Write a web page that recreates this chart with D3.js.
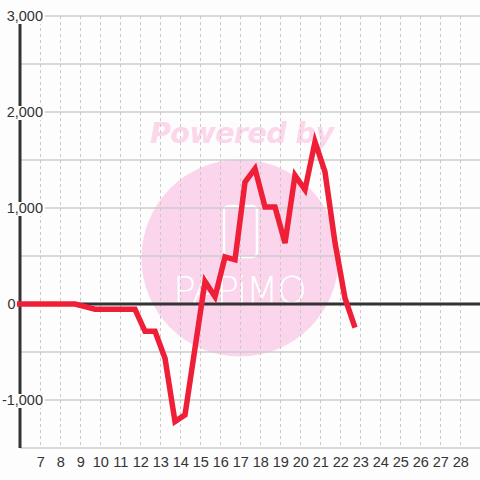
<!DOCTYPE html>
<html>
<head>
<meta charset="utf-8">
<script src="https://cdn.jsdelivr.net/npm/d3@7"></script>
<style>
  body { margin: 0; background: #fcfdfc; }
  svg { display: block; }
</style>
</head>
<body>
<div id="chart"></div>
<script>
// data (x = hour of day, y = balance)
var hours = [5.85, 6.25, 6.75, 7.25, 7.75, 8.25, 8.75, 9.25, 9.75, 10.25, 10.75, 11.25, 11.75,
  12.25, 12.75, 13.25, 13.75, 14.25, 14.75, 15.25, 15.75, 16.25, 16.75, 17.25, 17.75,
  18.25, 18.75, 19.25, 19.75, 20.25, 20.75, 21.25, 21.75, 22.25, 22.75];
var values = [0, 0, 0, 0, 0, 0, 0, -28, -55, -55, -55, -55, -55,
  -285, -285, -565, -1225, -1155, -460, 235, 75, 490, 460, 1270, 1410,
  1010, 1010, 635, 1340, 1190, 1690, 1375, 640, 60, -245];
var xTicks = d3.range(7, 29);
var yGrid = d3.range(-1500, 3001, 500);
var yLabels = [-1000, 0, 1000, 2000, 3000];

var width = 480, height = 480;
var bg = '#fcfdfc';

var svg = d3.select('#chart').append('svg')
  .attr('width', width)
  .attr('height', height);

var x = d3.scaleLinear().domain([6, 29]).range([20, 480]);
var y = d3.scaleLinear().domain([-1500, 3000]).range([448, 16]);

// watermark
var wm = svg.append('g');
wm.append('circle')
  .attr('cx', 240).attr('cy', 258).attr('r', 98.5)
  .style('fill', '#fad5ec');
wm.append('text')
  .attr('x', 242).attr('y', 143)
  .attr('text-anchor', 'middle')
  .attr('textLength', 184)
  .style('font-family', 'DejaVu Sans')
  .style('font-weight', 'bold')
  .style('font-style', 'italic')
  .style('font-size', '28.5px')
  .style('fill', '#fcd6ea')
  .text('Powered by');
wm.append('rect')
  .attr('x', 224).attr('y', 206).attr('width', 33).attr('height', 51).attr('rx', 5)
  .style('fill', 'none').style('stroke', '#fff').style('stroke-width', 2.5);
wm.append('text')
  .attr('x', 240).attr('y', 303)
  .attr('text-anchor', 'middle')
  .attr('textLength', 134)
  .style('font-family', 'DejaVu Sans')
  .style('font-weight', 200)
  .style('font-size', '38px')
  .style('fill', '#fff')
  .text('PAPiMO');

// horizontal grid
svg.selectAll('.hgrid')
  .data(yGrid)
  .enter().append('line')
  .attr('x1', 20).attr('x2', 480)
  .attr('y1', function (d) { return y(d); })
  .attr('y2', function (d) { return y(d); })
  .style('stroke', '#cccccc')
  .style('stroke-width', 1.5);

// vertical dashed grid
svg.selectAll('.vgrid')
  .data(xTicks)
  .enter().append('line')
  .attr('x1', function (d) { return x(d) + 0.5; })
  .attr('x2', function (d) { return x(d) + 0.5; })
  .attr('y1', y(3000)).attr('y2', y(-1500))
  .style('stroke', '#c8c8c8')
  .style('stroke-width', 1)
  .style('stroke-dasharray', '3,3');

// zero line and y axis line
svg.append('line')
  .attr('x1', 20).attr('x2', 480)
  .attr('y1', y(0)).attr('y2', y(0))
  .style('stroke', '#333').style('stroke-width', 3);
svg.append('line')
  .attr('x1', 20).attr('x2', 20)
  .attr('y1', y(3000)).attr('y2', y(-1500))
  .style('stroke', '#333').style('stroke-width', 3);

// data line
var line = d3.line()
  .x(function (d, i) { return x(hours[i]); })
  .y(function (d) { return y(d); });
svg.append('path')
  .datum(values)
  .attr('d', line)
  .style('fill', 'none')
  .style('stroke', '#ef1f37')
  .style('stroke-width', 5.5);

// y labels with background boxes
var fmt = d3.format(',');
var yl = svg.selectAll('.ylab')
  .data(yLabels)
  .enter().append('g');
yl.filter(function (d) { return d !== 0; })
  .append('rect')
  .attr('x', 3).attr('width', 42)
  .attr('y', function (d) { return y(d) - 6; })
  .attr('height', 14)
  .style('fill', bg);
yl.append('text')
  .attr('x', function (d) { return d === 0 ? 7.5 : 43; })
  .attr('y', function (d) { return y(d); })
  .attr('dy', '0.35em')
  .attr('text-anchor', function (d) { return d === 0 ? 'start' : 'end'; })
  .style('font-family', 'Liberation Sans, Arial, sans-serif')
  .style('font-size', '14.5px')
  .style('fill', '#333')
  .text(function (d) { return fmt(d).replace('−', '-'); });

// x labels
svg.selectAll('.xlab')
  .data(xTicks)
  .enter().append('text')
  .attr('x', function (d) { return x(d) + 0.7; })
  .attr('y', 462)
  .attr('dy', '0.35em')
  .attr('text-anchor', 'middle')
  .style('font-family', 'Liberation Sans, Arial, sans-serif')
  .style('font-size', '14.5px')
  .style('fill', '#333')
  .text(function (d) { return d; });
</script>
</body>
</html>
